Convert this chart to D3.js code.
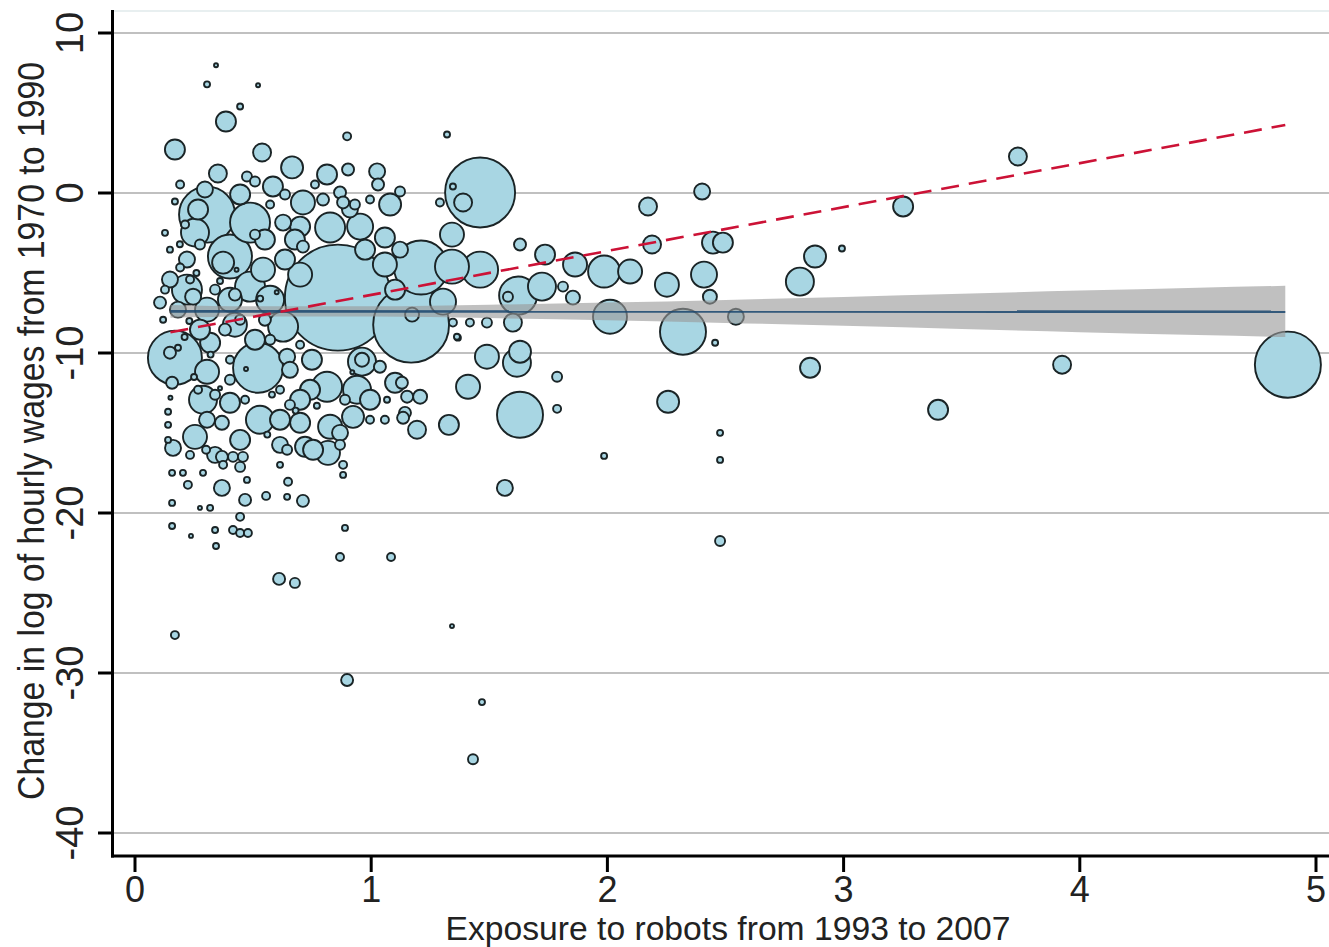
<!DOCTYPE html>
<html>
<head>
<meta charset="utf-8">
<script src="https://cdn.jsdelivr.net/npm/d3@7"></script>
<style>
  body { margin: 0; background: #fff; }
  text { font-family: "Liberation Sans", Arial, sans-serif; fill: #222; }
</style>
</head>
<body>
<div class="chart"></div>
<script>

// exposure to robots (x), change in log hourly wages (y), population weight (w)
var expX = [0.859,1.169,1.211,1.461,4.881,0.521,0.169,0.402,0.305,1.630,2.320,2.011,1.622,1.986,2.096,1.723,1.461,1.342,1.342,1.389,
  1.736,1.863,1.630,1.854,1.812,1.579,1.173,1.304,1.600,1.630,1.617,1.490,1.410,1.329,1.194,1.143,1.207,1.152,1.130,1.787,
  1.787,1.346,1.418,1.490,1.367,1.122,1.291,2.172,2.189,2.401,2.447,2.489,2.409,2.434,2.252,2.544,2.456,2.815,2.879,2.993,
  2.858,2.257,2.477,2.477,2.477,1.986,3.252,3.738,3.400,3.925,1.566,1.431,1.469,1.342,1.084,0.868,0.889,0.898,0.610,0.677,
  0.169,0.711,0.644,0.555,0.466,0.368,0.224,0.648,0.157,0.275,0.318,0.157,0.237,0.339,0.343,0.415,0.445,0.478,0.445,0.343,
  0.305,0.521,0.445,0.385,0.169,0.538,0.898,1.321,0.351,0.665,0.813,0.902,1.025,1.029,1.080,0.711,0.796,0.868,0.881,0.826,
  0.953,1.058,0.699,0.711,1.346,0.584,0.474,0.508,0.169,0.487,0.627,0.677,0.254,0.267,0.373,0.220,0.220,0.542,0.487,0.182,
  0.627,0.148,0.157,0.182,0.318,0.305,0.288,0.402,0.368,0.305,0.254,0.161,0.140,0.140,0.529,0.644,0.305,0.246,0.106,0.961,
  0.961,0.813,0.940,1.101,1.135,0.923,0.699,0.826,0.720,0.817,0.868,0.741,0.749,0.656,1.067,1.037,1.363,0.203,0.157,0.288,
  0.368,0.415,0.457,0.445,0.373,0.474,0.644,0.614,0.754,0.881,0.881,
  0.127,0.148,0.191,0.233,0.275,0.339,0.423,0.445,0.381,0.550,0.572,0.699,0.614,0.402,0.402,0.466,0.656,0.889,0.995,1.058,
  0.868,0.508,0.572,0.212,0.191,0.635,0.762,0.931,0.995,0.127,0.119,0.140,0.233,0.301,0.267,0.339,
  0.572,0.699,1.058,1.101,0.402,0.423,0.508,0.275,0.699,0.614,0.445,0.339,0.614,0.995,0.148,0.550,0.635,0.445,0.296,0.974,
  1.122,0.910,0.190,0.260,0.360,0.430,0.530,0.600,0.210,0.320,0.470,0.580,0.770,0.920,0.250,0.360,0.560,0.680,0.150,0.230];

var wageY = [-6.54,-8.23,-4.66,0.03,-10.73,-10.92,-10.29,-3.97,-1.35,-13.86,-8.67,-7.73,-6.41,-4.91,-4.91,-5.85,-4.79,-4.60,-2.60,-0.59,
  -3.85,-4.47,-3.22,-6.54,-5.85,-6.48,-7.60,-6.79,-8.10,-9.92,-10.61,-10.23,-12.11,-14.49,-14.80,-13.74,-12.73,-12.73,-11.86,-11.48,
  -13.49,-8.10,-8.10,-8.10,-9.04,0.09,-0.59,-0.84,-3.22,0.09,-3.10,-3.10,-5.10,-6.48,-5.73,-7.73,-9.36,-5.54,-3.97,-3.47,
  -10.92,-13.05,-14.99,-16.68,-21.75,-16.43,-0.84,2.28,-13.55,-10.73,-18.43,-35.39,-31.82,-27.07,-22.75,-22.75,-20.93,-30.44,-24.12,-24.37,
  -27.63,-19.24,-18.99,-18.93,-19.18,-18.43,-18.24,-18.05,-19.37,-19.68,-19.68,-20.81,-21.43,-21.06,-22.06,-21.06,-21.25,-21.25,-20.24,7.98,
  6.79,6.73,5.41,4.47,2.72,2.53,3.54,3.66,1.22,1.60,1.16,1.47,1.35,0.53,-0.72,-0.59,-0.41,0.03,-0.59,-2.16,
  -2.10,-2.78,-2.10,-3.35,0.41,0.41,1.03,0.72,-0.53,-1.85,-1.85,-2.91,-2.47,-1.03,-4.35,-4.16,-6.04,-4.79,-5.85,-7.29,
  -8.35,-9.98,-11.86,-9.67,-9.36,-11.17,-12.92,-13.11,-14.36,-14.17,-15.24,-15.93,-13.67,-14.49,-14.17,-10.23,-7.29,-6.48,-6.85,-10.54,
  -10.42,-12.11,-12.30,-11.86,-14.05,-13.99,-14.36,-14.61,-15.86,-16.24,-14.99,-12.30,-10.42,-11.05,-12.92,-10.86,-8.98,-17.49,-17.49,-17.49,
  -16.49,-16.49,-16.49,-17.12,-16.99,-17.93,-16.05,-16.99,-16.05,-16.99,-17.62,
  -2.49,-3.54,-4.66,-5.41,-3.22,-6.04,-6.35,-7.92,-8.54,-7.92,-9.17,-9.48,-12.30,-10.42,-11.67,-12.92,-13.24,-12.92,-14.17,-14.17,
  -15.74,-2.60,-0.72,-1.97,0.53,-0.09,0.53,-0.72,-0.41,-6.04,-7.92,-15.43,-16.37,-16.05,-12.30,-12.61,
  -6.67,-5.10,-4.47,-6.04,-6.67,-8.23,-9.17,-8.54,-12.92,-14.17,-15.43,-16.37,-15.74,-12.92,-5.41,-2.91,-4.16,-0.09,0.22,-3.54,
  -3.54,-1.03,-3.20,-5.00,-5.50,-4.80,-6.60,-6.20,-9.00,-10.10,-11.00,-12.60,-13.30,-11.20,-11.50,-12.20,-15.10,-13.60,-12.80,-8.00];

var popW = [28.1,14.4,7.29,12.25,10.9,6.25,7.29,4.84,7.84,5.29,5.29,2.89,3.61,2.56,1.44,1.96,3.24,2.89,1.44,0.81,
  1.0,1.44,0.36,0.49,0.25,0.25,0.49,1.69,0.81,1.21,1.96,1.44,1.44,1.0,0.81,0.36,0.49,0.36,0.36,0.25,
  0.16,0.16,0.16,0.25,0.09,0.25,0.16,0.81,0.81,0.64,1.21,1.0,1.69,0.49,1.44,0.64,0.09,1.96,1.21,0.09,
  1.0,1.21,0.09,0.09,0.25,0.09,1.0,0.81,1.0,0.81,0.64,0.25,0.09,0.04,0.16,0.16,0.09,0.36,0.36,0.25,
  0.16,0.36,0.09,0.16,0.36,0.64,0.16,0.16,0.09,0.04,0.09,0.09,0.04,0.09,0.09,0.16,0.16,0.16,0.16,0.04,
  0.09,0.04,0.09,1.0,1.0,0.81,0.16,0.09,0.81,1.21,1.0,0.36,0.64,0.36,1.21,1.44,0.36,0.36,0.36,2.25,
  1.69,1.0,1.0,0.36,0.09,1.0,0.25,0.25,0.09,4.0,0.64,1.0,1.96,1.0,1.21,0.64,2.25,1.44,2.25,0.64,
  2.25,0.36,0.36,0.09,1.0,1.44,1.96,1.0,0.49,0.64,1.44,0.64,0.09,0.09,1.96,0.64,1.44,0.64,0.36,1.96,
  0.49,2.25,1.96,1.0,0.36,1.21,1.0,1.44,1.0,1.44,0.64,1.0,1.0,0.64,0.09,0.36,0.09,0.09,0.09,0.09,
  0.36,0.25,0.25,0.25,0.16,0.09,0.25,0.09,1.0,0.16,0.09,
  0.09,0.09,0.16,0.16,0.25,0.25,0.36,0.25,0.36,0.36,0.25,0.16,0.16,0.16,0.25,0.16,0.25,0.25,0.16,0.16,
  0.25,0.25,0.16,0.16,0.16,0.25,0.16,0.25,0.16,0.16,0.09,0.09,0.16,0.16,0.16,0.25,
  1.96,1.44,1.44,1.0,1.44,1.44,1.0,1.0,1.0,1.0,1.0,0.64,0.64,1.0,0.64,1.0,1.0,1.0,0.64,1.0,
  0.64,0.64,0.09,0.09,0.09,0.04,0.09,0.04,0.09,0.09,0.04,0.09,0.09,0.04,0.09,0.04,0.09,0.09,0.04,0.09];

// weighted fit (flat) with confidence band, and unweighted fit (dashed)
var bandX  = [0.15, 0.5, 1.0, 1.5, 2.0, 2.5, 3.0, 3.5, 4.0, 4.5, 4.87];
var bandLo = [-7.80,-7.72,-7.72,-7.82,-7.95,-8.12,-8.30,-8.50,-8.70,-8.88,-9.00];
var bandHi = [-7.00,-7.08,-7.08,-6.98,-6.85,-6.68,-6.50,-6.30,-6.10,-5.92,-5.80];
var fitX = [0.15, 4.87];
var fitY = [-7.40, -7.42];
var olsX = [0.15, 4.87];
var olsY = [-8.70, 4.25];

var xTicks = [0, 1, 2, 3, 4, 5];
var yTicks = [10, 0, -10, -20, -30, -40];
var xTitle = "Exposure to robots from 1993 to 2007";
var yTitle = "Change in log of hourly wages from 1970 to 1990";

var W = 1329, H = 947;

var svg = d3.select('.chart').append('svg')
  .attr('width', W)
  .attr('height', H)
  .style('display', 'block');

svg.append('rect').attr('width', W).attr('height', H).attr('fill', '#fff');

var x = d3.scaleLinear().domain([0, 5]).range([135, 1316]);
var y = d3.scaleLinear().domain([-40, 10]).range([833, 33]);
var r = d3.scaleSqrt().domain([0, 1]).range([0, 10]);

var axisX = 112.5, axisY = 856;

// faint frame line at top of plot region
svg.append('line')
  .attr('x1', axisX).attr('x2', W).attr('y1', 11).attr('y2', 11)
  .attr('stroke', '#e8eff0').attr('stroke-width', 2);

// gridlines
svg.append('g').selectAll('line')
  .data(yTicks)
  .join('line')
  .attr('x1', axisX).attr('x2', W)
  .attr('y1', function(d){ return y(d); })
  .attr('y2', function(d){ return y(d); })
  .attr('stroke', '#c0c0c0')
  .attr('stroke-width', 2.2);

// bubbles, biggest first so the small ones stay visible
var pts = expX.map(function(d, i){ return {x: d, y: wageY[i], w: popW[i]}; });
pts.sort(function(a, b){ return b.w - a.w; });

svg.append('g').selectAll('circle')
  .data(pts)
  .join('circle')
  .attr('cx', function(d){ return x(d.x); })
  .attr('cy', function(d){ return y(d.y); })
  .attr('r', function(d){ return r(d.w); })
  .attr('fill', '#a8d6e3')
  .attr('stroke', '#1a2426')
  .attr('stroke-width', 1.9);

// confidence band
var band = bandX.map(function(d, i){ return {x: d, lo: bandLo[i], hi: bandHi[i]}; });
svg.append('path')
  .datum(band)
  .attr('d', d3.area()
    .x(function(d){ return x(d.x); })
    .y0(function(d){ return y(d.lo); })
    .y1(function(d){ return y(d.hi); })
    .curve(d3.curveMonotoneX))
  .attr('fill', '#9a9a9a')
  .attr('fill-opacity', 0.62);

var line = d3.line()
  .x(function(d){ return x(d[0]); })
  .y(function(d){ return y(d[1]); });

svg.append('path')
  .datum(d3.zip(fitX, fitY))
  .attr('d', line)
  .attr('fill', 'none')
  .attr('stroke', '#1a476f')
  .attr('stroke-opacity', 0.85)
  .attr('stroke-width', 2.6);

svg.append('path')
  .datum(d3.zip(olsX, olsY))
  .attr('d', line)
  .attr('fill', 'none')
  .attr('stroke', '#cc1236')
  .attr('stroke-width', 2.6)
  .attr('stroke-dasharray', '18 10');

// axes
var gx = svg.append('g').attr('transform', 'translate(0,' + axisY + ')');
gx.append('line')
  .attr('x1', axisX - 1.5).attr('x2', W)
  .attr('stroke', '#000').attr('stroke-width', 3);
gx.selectAll('.tick')
  .data(xTicks)
  .join('line')
  .attr('class', 'tick')
  .attr('x1', function(d){ return x(d); })
  .attr('x2', function(d){ return x(d); })
  .attr('y1', 0).attr('y2', 16)
  .attr('stroke', '#000').attr('stroke-width', 3);
gx.selectAll('text')
  .data(xTicks)
  .join('text')
  .attr('x', function(d){ return x(d); })
  .attr('y', 46)
  .attr('text-anchor', 'middle')
  .style('font-size', '36px')
  .text(function(d){ return d; });

var gy = svg.append('g');
gy.append('line')
  .attr('x1', axisX).attr('x2', axisX)
  .attr('y1', 10).attr('y2', axisY + 1.5)
  .attr('stroke', '#000').attr('stroke-width', 3);
gy.selectAll('.tick')
  .data(yTicks)
  .join('line')
  .attr('class', 'tick')
  .attr('x1', 98).attr('x2', axisX)
  .attr('y1', function(d){ return y(d); })
  .attr('y2', function(d){ return y(d); })
  .attr('stroke', '#000').attr('stroke-width', 3);
gy.selectAll('text')
  .data(yTicks)
  .join('text')
  .attr('transform', function(d){ return 'translate(83,' + y(d) + ') rotate(-90)'; })
  .attr('text-anchor', 'middle')
  .style('font-size', '38px')
  .text(function(d){ return d; });

// titles
svg.append('text')
  .attr('x', 728)
  .attr('y', 940)
  .attr('text-anchor', 'middle')
  .attr('textLength', 565)
  .attr('lengthAdjust', 'spacingAndGlyphs')
  .style('font-size', '33px')
  .text(xTitle);

svg.append('text')
  .attr('transform', 'translate(44,431) rotate(-90)')
  .attr('text-anchor', 'middle')
  .attr('textLength', 738)
  .attr('lengthAdjust', 'spacingAndGlyphs')
  .style('font-size', '36px')
  .text(yTitle);

</script>
</body>
</html>
